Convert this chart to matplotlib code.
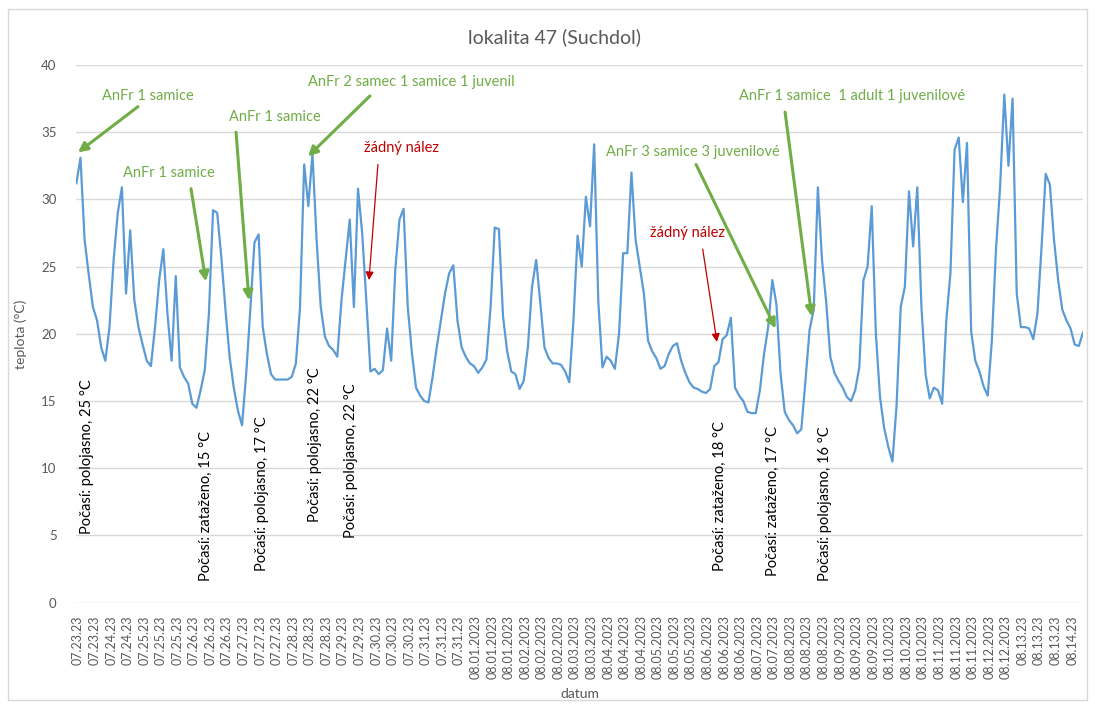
import matplotlib
matplotlib.use("Agg")
import matplotlib.pyplot as plt
from matplotlib.patches import Rectangle

plt.rcParams["font.family"] = ["Lato", "DejaVu Sans"]

# === data ===
# one reading every quarter of a label step (labels are ~8.5 h apart)
start_pos = -0.1
step = 0.25
teplota = [
    31.2, 33.1, 27.0, 24.4, 22.0, 21.0, 19.0, 18.0, 20.5, 25.5,
    29.0, 30.9, 23.0, 27.7, 22.5, 20.5, 19.2, 18.0, 17.6, 20.5,
    24.0, 26.3, 21.5, 18.0, 24.3, 17.5, 16.8, 16.3, 14.8, 14.5,
    15.8, 17.3, 21.5, 29.2, 29.0, 25.7, 21.8, 18.3, 16.0, 14.3,
    13.2, 17.0, 21.8, 26.8, 27.4, 20.5, 18.5, 17.0, 16.6, 16.6,
    16.6, 16.6, 16.8, 17.8, 22.0, 32.6, 29.5, 33.4, 27.0, 22.0,
    19.8, 19.1, 18.8, 18.3, 22.5, 25.5, 28.5, 22.0, 30.8, 27.5,
    22.5, 17.2, 17.4, 17.0, 17.3, 20.4, 18.0, 24.8, 28.5, 29.3,
    22.0, 18.6, 16.0, 15.4, 15.0, 14.9, 16.8, 19.0, 21.0, 23.0,
    24.5, 25.1, 21.0, 19.0, 18.3, 17.8, 17.6, 17.1, 17.5, 18.1,
    22.0, 27.9, 27.8, 21.3, 18.7, 17.2, 17.0, 15.9, 16.5, 19.0,
    23.5, 25.5, 22.3, 19.0, 18.2, 17.8, 17.8, 17.7, 17.2, 16.4,
    21.0, 27.3, 25.0, 30.2, 28.0, 34.1, 22.4, 17.5, 18.3, 18.0,
    17.4, 20.0, 26.0, 26.0, 32.0, 27.0, 25.0, 23.0, 19.5, 18.7,
    18.2, 17.4, 17.6, 18.5, 19.1, 19.3, 18.0, 17.1, 16.4, 16.0,
    15.9, 15.7, 15.6, 15.9, 17.6, 17.9, 19.6, 19.9, 21.2, 16.0,
    15.4, 15.0, 14.2, 14.1, 14.1, 15.8, 18.5, 20.5, 24.0, 22.2,
    17.0, 14.2, 13.6, 13.2, 12.6, 12.9, 16.5, 20.3, 21.8, 30.9,
    25.5, 22.4, 18.3, 17.1, 16.5, 16.0, 15.3, 15.0, 15.8, 17.5,
    24.0, 25.0, 29.5, 20.0, 15.3, 13.0, 11.6, 10.5, 14.7, 22.0,
    23.5, 30.6, 26.5, 30.9, 22.0, 17.0, 15.2, 16.0, 15.8, 14.8,
    21.0, 24.5, 33.7, 34.6, 29.8, 34.2, 20.2, 18.0, 17.2, 16.1,
    15.4, 19.5, 26.3, 31.0, 37.8, 32.5, 37.5, 23.0, 20.5, 20.5,
    20.4, 19.6, 21.5, 26.5, 31.9, 31.1, 27.0, 24.0, 21.8, 21.0,
    20.4, 19.2, 19.1, 20.1,
]

label_days = [
    "07.23.23", "07.24.23", "07.25.23", "07.26.23", "07.27.23", "07.28.23",
    "07.29.23", "07.30.23", "07.31.23", "08.01.2023", "08.02.2023",
    "08.03.2023", "08.04.2023", "08.05.2023", "08.06.2023", "08.07.2023",
    "08.08.2023", "08.09.2023", "08.10.2023", "08.11.2023", "08.12.2023",
    "08.13.23", "08.14.23",
]
label_counts = [2, 2, 3, 3, 3, 3, 2, 3, 3, 3, 3, 2, 3, 3, 3, 2, 3, 3, 3, 3, 2, 3, 1]
tick_labels = [d for d, n in zip(label_days, label_counts) for _ in range(n)]

# nálezy: text, pozice textu, začátek šipky, cíl šipky, barva
nalezy = [
    ("AnFr 1 samice", (4.22, 37.7), (3.62, 36.9), (0.0, 33.5), "green"),
    ("AnFr 1 samice", (5.49, 32.0), (6.82, 30.8), (7.72, 23.9), "green"),
    ("AnFr 1 samice", (11.89, 36.1), (9.54, 35.0), (10.32, 22.5), "green"),
    ("AnFr 2 samec 1 samice 1 juvenil", (20.1, 38.7), (17.62, 37.7), (13.88, 33.2), "green"),
    ("žádný nález", (19.55, 33.8), (18.1, 32.6), (17.56, 24.0), "red"),
    ("AnFr 3 samice 3 juvenilové", (37.1, 33.5), (37.3, 32.6), (42.1, 20.4), "green"),
    ("žádný nález", (36.8, 27.5), (37.7, 26.3), (38.56, 19.4), "red"),
    ("AnFr 1 samice  1 adult 1 juvenilové", (46.7, 37.7), (42.67, 36.5), (44.28, 21.3), "green"),
]

pocasi = [
    ("Počasí: polojasno, 25 °C", 0.54, 10.84),
    ("Počasí: zataženo, 15 °C", 7.72, 7.23),
    ("Počasí: polojasno, 17 °C", 11.1, 8.09),
    ("Počasí: polojasno, 22 °C", 14.3, 11.77),
    ("Počasí: polojasno, 22 °C", 16.48, 10.58),
    ("Počasí: zataženo, 18 °C", 38.74, 7.94),
    ("Počasí: zataženo, 17 °C", 41.94, 7.57),
    ("Počasí: polojasno, 16 °C", 45.08, 7.38),
]

barvy = {"green": "#70AD47", "red": "#C00000"}
seda = "#595959"

# === graf ===
fig = plt.figure(figsize=(10.95, 7.09), dpi=100)
ax = fig.add_axes([76 / 1095, 1 - 602.7 / 709, (1083 - 76) / 1095, (602.7 - 65) / 709])

x = [start_pos + step * k for k in range(len(teplota))]
ax.plot(x, teplota, color="#5B9BD5", lw=1.6, zorder=3)

ax.set_xlim(-0.12, 60.65)
ax.set_ylim(0, 40)
ax.set_yticks(range(0, 41, 5))
ax.yaxis.grid(True, color="#D9D9D9", lw=1)
ax.set_axisbelow(True)
for s in ax.spines.values():
    s.set_visible(False)
ax.set_xticks(range(len(tick_labels)))
ax.set_xticklabels(tick_labels, rotation=90, fontsize=9, color=seda, va="top")
ax.tick_params(axis="both", length=0)
ax.tick_params(axis="x", pad=9)
ax.tick_params(axis="y", pad=14, labelsize=9.5, labelcolor=seda)

ax.set_xlabel("datum", fontsize=10, color=seda, labelpad=6)
ax.set_ylabel("teplota (°C)", fontsize=10, color=seda, labelpad=10)
fig.text(555 / 1095, 1 - 37 / 709, "lokalita 47 (Suchdol)", ha="center", va="center",
         fontsize=14, color=seda)

for text, pos_txt, pos_from, pos_to, barva in nalezy:
    c = barvy[barva]
    ax.text(pos_txt[0], pos_txt[1], text, color=c, fontsize=10.5, ha="center", va="center")
    lw = 2.2 if barva == "green" else 0.9
    ax.annotate("", xy=pos_to, xytext=pos_from,
                arrowprops=dict(arrowstyle="-|>", color=c, lw=lw,
                                mutation_scale=14 if barva == "green" else 12,
                                shrinkA=0, shrinkB=0),
                zorder=5)

for text, px, py in pocasi:
    ax.text(px, py, text, rotation=90, ha="center", va="center", fontsize=10.5, color="black")

# rámeček grafu
fig.patches.append(Rectangle((8 / 1095, 1 - 700 / 709), 1079 / 1095, 691 / 709,
                             transform=fig.transFigure, fill=False,
                             edgecolor="#D9D9D9", lw=1))

fig.savefig("out.png", dpi=100)
